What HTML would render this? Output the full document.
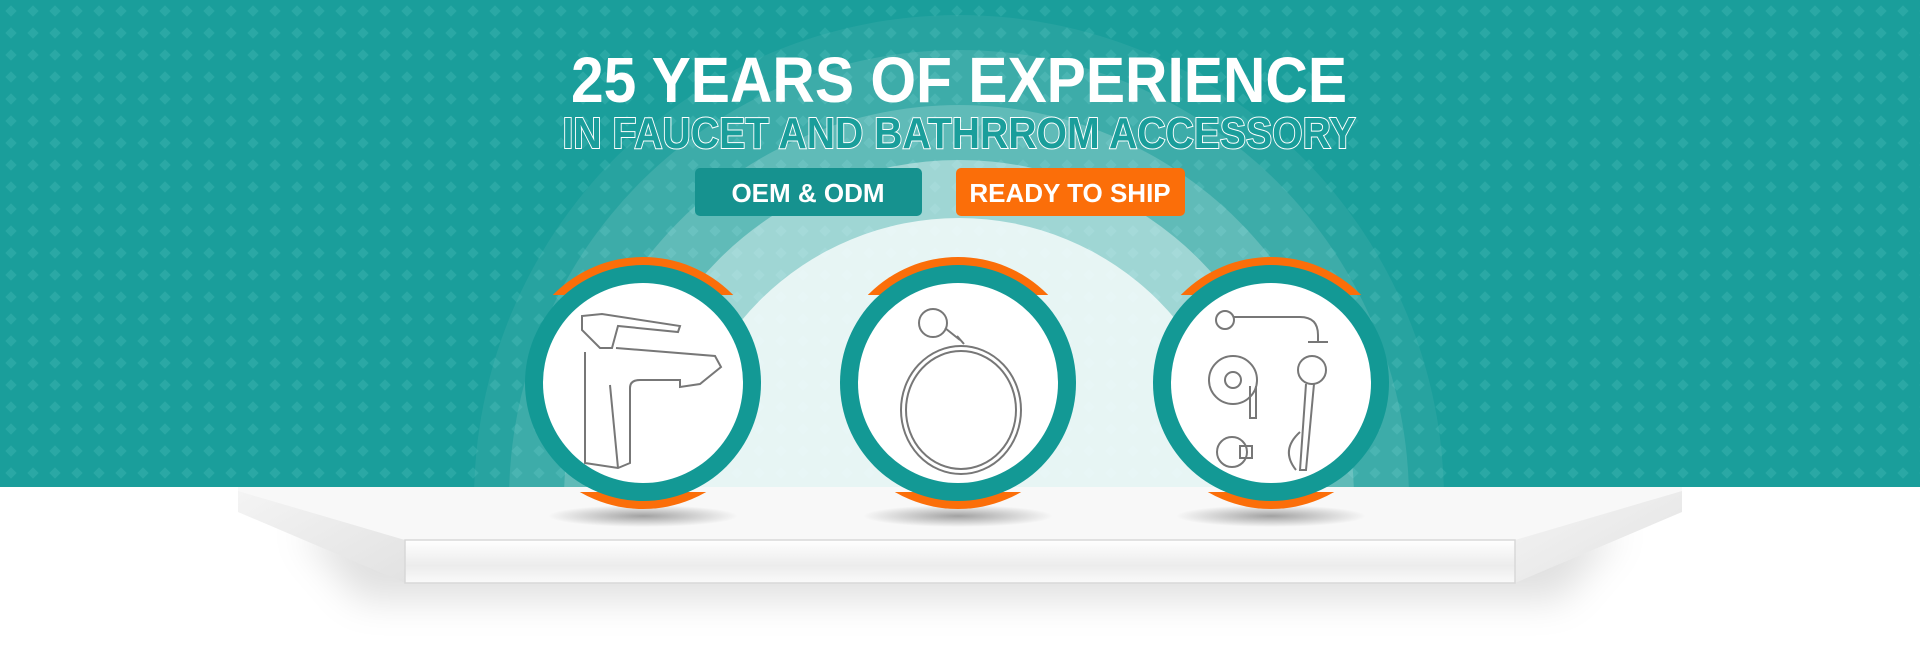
<!DOCTYPE html>
<html><head><meta charset="utf-8">
<style>
html,body{margin:0;padding:0;width:1920px;height:649px;overflow:hidden;background:#fff;font-family:"Liberation Sans",sans-serif}
svg{display:block}
</style></head>
<body>
<svg width="1920" height="649" viewBox="0 0 1920 649" xmlns="http://www.w3.org/2000/svg">
<defs>
<pattern id="dots" width="22" height="22" patternUnits="userSpaceOnUse">
<rect x="7" y="7" width="8" height="8" fill="#2aa8a5" transform="rotate(45 11 11)"/>
</pattern>
<clipPath id="topClip"><rect x="0" y="0" width="1920" height="487"/></clipPath>
<linearGradient id="front" x1="0" y1="0" x2="0" y2="1">
<stop offset="0" stop-color="#fff"/><stop offset="0.6" stop-color="#ececec"/><stop offset="1" stop-color="#fafafa"/></linearGradient>
<linearGradient id="side" x1="0" y1="0" x2="1" y2="1">
<stop offset="0" stop-color="#f4f4f4"/><stop offset="1" stop-color="#e2e2e2"/></linearGradient>
<radialGradient id="sh"><stop offset="0" stop-color="#000" stop-opacity="0.35"/><stop offset="1" stop-color="#000" stop-opacity="0"/></radialGradient>
<filter id="blur" x="-20%" y="-100%" width="140%" height="300%"><feGaussianBlur stdDeviation="18"/></filter>
</defs>
<rect x="0" y="0" width="1920" height="487" fill="#1a9e9b"/>
<rect x="0" y="0" width="1920" height="487" fill="url(#dots)"/>
<g clip-path="url(#topClip)">
<circle cx="959" cy="500" r="485" fill="#fff" fill-opacity="0.06"/>
<circle cx="959" cy="500" r="450" fill="#fff" fill-opacity="0.1"/>
<circle cx="959" cy="500" r="395" fill="#fff" fill-opacity="0.18"/>
<circle cx="959" cy="500" r="340" fill="#fff" fill-opacity="0.4"/>
<circle cx="959" cy="500" r="282" fill="#fff" fill-opacity="0.75"/>
</g>
<text x="959" y="102" text-anchor="middle" font-family="Liberation Sans" font-weight="bold" font-size="64" fill="#fff" textLength="776" lengthAdjust="spacingAndGlyphs">25 YEARS OF EXPERIENCE</text>
<text x="959" y="148" text-anchor="middle" font-family="Liberation Sans" font-weight="bold" font-size="44" fill="#1a9e9b" stroke="#fff" stroke-width="2" paint-order="stroke" textLength="793" lengthAdjust="spacingAndGlyphs">IN FAUCET AND BATHRROM ACCESSORY</text>
<g>
<rect x="695" y="168" width="227" height="48" rx="5" fill="#16928f"/>
<text x="808" y="202" text-anchor="middle" font-weight="bold" font-size="26" fill="#fff">OEM &amp; ODM</text>
</g>
<g>
<rect x="956" y="168" width="229" height="48" rx="5" fill="#fb6e09"/>
<text x="1070" y="202" text-anchor="middle" font-weight="bold" font-size="26" fill="#fff">READY TO SHIP</text>
</g>
<g>
<polygon points="300,530 1620,530 1560,600 360,600" fill="#000" fill-opacity="0.12" filter="url(#blur)"/>
<polygon points="238,487 1682,487 1682,512 1515,540 405,540 238,512" fill="#f8f8f8"/>
<polygon points="238,491 405,540 405,583 238,512" fill="url(#side)"/>
<polygon points="1682,491 1515,540 1515,583 1682,512" fill="url(#side)"/>
<rect x="405" y="540" width="1110" height="43" fill="url(#front)" stroke="#d8d8d8" stroke-width="1.5"/>
</g>
<g id="circles"></g>
<g fill="none" stroke="#777" stroke-width="2" transform="translate(-10 0)">
<path d="M592 316 L592 330 L610 348 L622 348 L628 326 L688 332 L690 326 L612 314 Z"/>
<path d="M595 352 L595 463 L628 468 L640 463 L640 388 Q640 380 650 380 L690 380 L690 387 L710 384 L731 367 L725 356 L626 348"/>
<path d="M620 385 L628 468"/>
</g>
<g fill="none" stroke="#777" stroke-width="2">
<circle cx="933" cy="323" r="14"/>
<path d="M945 328 L960 340 M957 336 L964 344"/>
<ellipse cx="961" cy="410" rx="60" ry="64"/>
<ellipse cx="961" cy="410" rx="55" ry="59"/>
</g>
<g fill="none" stroke="#777" stroke-width="2">
<circle cx="1225" cy="320" r="9"/>
<path d="M1234 317 L1300 317 Q1318 317 1318 335 L1318 342 M1308 342 L1328 342"/>
<circle cx="1233" cy="380" r="24"/><circle cx="1233" cy="380" r="8"/>
<path d="M1250 386 L1250 418 L1256 418 L1256 386"/>
<circle cx="1232" cy="452" r="15"/><rect x="1240" y="446" width="12" height="12"/>
<circle cx="1312" cy="370" r="14"/><path d="M1306 384 L1300 470 L1306 470 L1314 384"/>
<path d="M1300 432 Q1280 450 1296 470"/>
</g>
<script>
const circleCenters = [643, 958, 1271];
const g = document.getElementById('circles');
const ns = 'http://www.w3.org/2000/svg';
const cy = 383;
circleCenters.forEach((cx, i) => {
  const grp = document.createElementNS(ns, 'g');
  
  
  const sh = document.createElementNS(ns, 'ellipse');
  sh.setAttribute('cx', cx); sh.setAttribute('cy', 516); sh.setAttribute('rx', 95); sh.setAttribute('ry', 11);
  sh.setAttribute('fill', 'url(#sh)');
  grp.appendChild(sh);
  const cp1 = document.createElementNS(ns, 'clipPath'); cp1.setAttribute('id', 'oc' + i);
  const r1 = document.createElementNS(ns, 'rect'); r1.setAttribute('x', cx - 140); r1.setAttribute('y', 250); r1.setAttribute('width', 280); r1.setAttribute('height', 45);
  const r2 = document.createElementNS(ns, 'rect'); r2.setAttribute('x', cx - 140); r2.setAttribute('y', 492); r2.setAttribute('width', 280); r2.setAttribute('height', 30);
  cp1.appendChild(r1); cp1.appendChild(r2); grp.appendChild(cp1);
  const oc = document.createElementNS(ns, 'circle');
  oc.setAttribute('cx', cx); oc.setAttribute('cy', cy); oc.setAttribute('r', 126);
  oc.setAttribute('fill', '#fb6e09'); oc.setAttribute('clip-path', 'url(#oc' + i + ')');
  grp.appendChild(oc);
  const ring = document.createElementNS(ns, 'circle');
  ring.setAttribute('cx', cx); ring.setAttribute('cy', cy); ring.setAttribute('r', 118);
  ring.setAttribute('fill', '#139995');
  grp.appendChild(ring);
  const inner = document.createElementNS(ns, 'circle');
  inner.setAttribute('cx', cx); inner.setAttribute('cy', cy); inner.setAttribute('r', 100);
  inner.setAttribute('fill', '#fff');
  grp.appendChild(inner);
  g.appendChild(grp);
});
</script>
</svg>
</body></html>
